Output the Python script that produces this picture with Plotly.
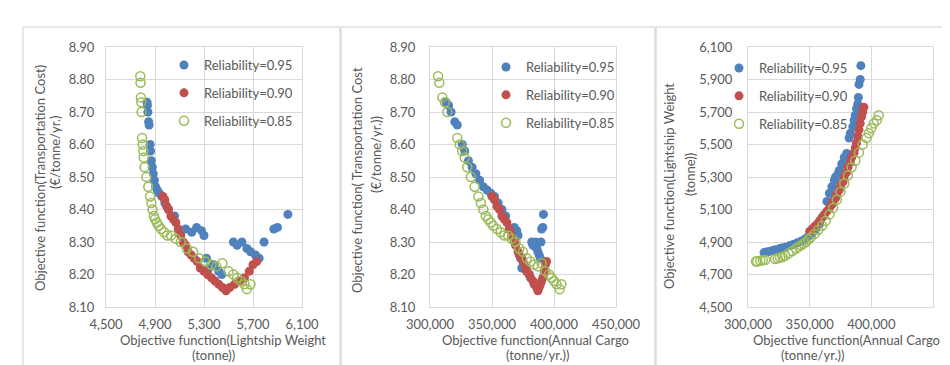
import plotly.graph_objects as go

# ---------------- data ----------------
series_names = ["Reliability=0.95", "Reliability=0.90", "Reliability=0.85"]
series_colors = ["#4F81BD", "#C0504D", "#9BBB59"]

# Reliability = 0.95
cargo_095 = [313000, 315000, 317000, 320000, 322000, 326000, 328000, 331000, 334000, 337000,
             340000, 343000, 346000, 349000, 352000, 355000, 358000, 361000, 364000, 366000,
             368000, 370000, 371000, 373000, 374000, 376000, 378000, 380000, 382000, 383000,
             385000, 386000, 387000, 388000, 389000, 389500, 390000, 391000, 391500]
weight_095 = [4835, 4838, 4842, 4848, 4852, 4860, 4864, 4870, 4878, 4886,
              4895, 4905, 4918, 4935, 4955, 4980, 5010, 5060, 5150, 5200,
              5240, 5280, 5300, 5320, 5340, 5380, 5420, 5445, 5540, 5570,
              5610, 5650, 5680, 5720, 5750, 5790, 5870, 5900, 5985]
cost_095 = [8.73, 8.72, 8.70, 8.67, 8.66, 8.60, 8.58, 8.55, 8.53, 8.51,
            8.49, 8.47, 8.46, 8.45, 8.44, 8.42, 8.40, 8.38, 8.34, 8.33,
            8.345, 8.335, 8.32, 8.25, 8.22, 8.23, 8.21, 8.20, 8.30, 8.29,
            8.30, 8.28, 8.27, 8.26, 8.25, 8.30, 8.34, 8.345, 8.385]

# Reliability = 0.90
cargo_090 = [350000, 352000, 354000, 356000, 358000, 360000, 362000, 364000, 366000, 368000,
             369000, 371000, 372000, 374000, 375000, 377000, 378000, 380000, 381000, 383000,
             384000, 386000, 387000, 388000, 389000, 390000, 391000, 392000, 393000, 394000]
weight_090 = [4965, 4980, 4995, 5010, 5030, 5050, 5070, 5090, 5110, 5130,
              5150, 5170, 5195, 5220, 5245, 5270, 5300, 5330, 5360, 5390,
              5420, 5450, 5480, 5510, 5550, 5590, 5630, 5670, 5700, 5730]
cost_090 = [8.44, 8.43, 8.41, 8.40, 8.38, 8.37, 8.36, 8.34, 8.32, 8.30,
            8.29, 8.27, 8.26, 8.25, 8.24, 8.22, 8.21, 8.20, 8.19, 8.18,
            8.17, 8.16, 8.15, 8.16, 8.17, 8.18, 8.19, 8.21, 8.23, 8.24]

# Reliability = 0.85
cargo_085 = [306500, 307500, 310000, 312000, 314000, 322000, 324000, 326000, 328000, 330000,
             333000, 336000, 339000, 341000, 343000, 345000, 347000, 349000, 351000, 354000,
             357000, 360000, 363000, 366000, 369000, 372000, 375000, 378000, 381000, 384000,
             387000, 390000, 393000, 396000, 398000, 400000, 402000, 404500, 406000]
weight_085 = [4780, 4782, 4785, 4788, 4790, 4795, 4800, 4805, 4808, 4815,
              4830, 4845, 4860, 4870, 4880, 4890, 4900, 4915, 4930, 4950,
              4975, 5000, 5030, 5070, 5110, 5160, 5210, 5260, 5310, 5360,
              5400, 5450, 5500, 5540, 5570, 5600, 5630, 5650, 5680]
cost_085 = [8.81, 8.79, 8.745, 8.73, 8.70, 8.62, 8.60, 8.58, 8.56, 8.53,
            8.50, 8.47, 8.44, 8.42, 8.40, 8.38, 8.37, 8.36, 8.35, 8.34,
            8.33, 8.32, 8.32, 8.31, 8.30, 8.28, 8.27, 8.25, 8.24, 8.23,
            8.225, 8.235, 8.21, 8.20, 8.19, 8.18, 8.17, 8.155, 8.17]

weight_ticks = [4500, 4900, 5300, 5700, 6100]
cargo_ticks = [300000, 350000, 400000, 450000]
cost_ticks = [8.10, 8.20, 8.30, 8.40, 8.50, 8.60, 8.70, 8.80, 8.90]
weight_ticks_y = [4500, 4700, 4900, 5100, 5300, 5500, 5700, 5900, 6100]

cargo = [cargo_095, cargo_090, cargo_085]
weight = [weight_095, weight_090, weight_085]
cost = [cost_095, cost_090, cost_085]

# ---------------- figure ----------------
# the page body has an 8px margin, so the figure starts 8px in from the window edge
OFF = 8
W, H = 950 - OFF, 365 - OFF
def px(x):
    return (x - OFF) / W
def py(y):
    return 1 - (y - OFF) / H

FONT = "Lato"
TXT = "#595959"
GRID = "#d9d9d9"

fig = go.Figure()

panels = [
    (weight, cost, "", "legend"),
    (cargo, cost, "2", "legend2"),
    (cargo, weight, "3", "legend3"),
]

for p, (xd, yd, ax, lg) in enumerate(panels):
    for s in range(3):
        if s < 2:
            marker = dict(size=9, color=series_colors[s], symbol="circle",
                          line=dict(width=0))
        else:
            marker = dict(size=9, color=series_colors[s], symbol="circle-open",
                          line=dict(width=1.5, color=series_colors[s]))
        fig.add_trace(go.Scatter(
            x=xd[s], y=yd[s], mode="markers", name=series_names[s],
            marker=marker, xaxis="x" + ax, yaxis="y" + ax,
            legend=lg, legendgroup="p%d_s%d" % (p, s),
            hoverinfo="x+y",
        ))

ydom = [py(307), py(47)]
axis_common = dict(
    showgrid=True, gridcolor=GRID, gridwidth=1, zeroline=False,
    showline=True, linecolor=GRID, linewidth=1, mirror=True,
    ticks="", automargin=False,
    tickfont=dict(family=FONT, size=13, color=TXT),
)

fig.update_layout(
    template="none",
    width=W, height=H,
    margin=dict(l=0, r=0, t=0, b=0, autoexpand=False),
    paper_bgcolor="white", plot_bgcolor="white",
    font=dict(family=FONT, size=13, color=TXT),
    showlegend=True,
    xaxis=dict(domain=[px(106), px(302)], range=[4500, 6100], tickvals=weight_ticks,
               tickformat=",d", anchor="y", ticklabelstandoff=5, **axis_common),
    yaxis=dict(domain=ydom, range=[8.10, 8.90], tickvals=cost_ticks,
               tickformat=".2f", anchor="x", ticklabelstandoff=8, **axis_common),
    xaxis2=dict(domain=[px(430), px(616)], range=[300000, 450000], tickvals=cargo_ticks,
                tickformat=",d", anchor="y2", ticklabelstandoff=5, **axis_common),
    yaxis2=dict(domain=ydom, range=[8.10, 8.90], tickvals=cost_ticks,
                tickformat=".2f", anchor="x2", ticklabelstandoff=11, **axis_common),
    xaxis3=dict(domain=[px(748), px(933)], range=[300000, 450000], tickvals=cargo_ticks,
                tickformat=",d", anchor="y3", ticklabelstandoff=5, **axis_common),
    yaxis3=dict(domain=ydom, range=[4500, 6100], tickvals=weight_ticks_y,
                tickformat=",d", anchor="x3", ticklabelstandoff=12, **axis_common),
)

leg_common = dict(bgcolor="rgba(0,0,0,0)", borderwidth=0,
                  font=dict(family=FONT, size=13, color=TXT),
                  traceorder="grouped", tracegroupgap=8,
                  xanchor="left", yanchor="top", itemwidth=30)
fig.update_layout(
    legend=dict(x=px(164), y=py(50), **leg_common),
    legend2=dict(x=px(486), y=py(52), **leg_common),
    legend3=dict(x=px(719), y=py(53), **leg_common),
)

# panel frames
for x0, x1 in [(23, 340), (341, 655), (656, 970)]:
    fig.add_shape(type="rect", xref="paper", yref="paper",
                  x0=px(x0), x1=px(x1), y0=py(390), y1=py(27),
                  line=dict(color="#cfcfcf", width=1), fillcolor="rgba(0,0,0,0)",
                  layer="below")

def ann(text, x, y, angle=0, xanchor="center"):
    fig.add_annotation(text=text, xref="paper", yref="paper", x=px(x), y=py(y),
                       xanchor=xanchor, yanchor="middle", showarrow=False,
                       textangle=angle, borderpad=0,
                       font=dict(family=FONT, size=13, color=TXT))

# y titles
ann("Objective function(Transportation Cost)", 40, 178, -90)
ann("(€/tonne/yr.)", 55, 153, -90)
ann("Objective function( Transportation Cost", 357, 180, -90)
ann("(€/tonne/yr.))", 376, 155, -90)
ann("Objective function(Lightship Weight", 669, 186, -90)
ann("(tonne))", 690, 175, -90)

# x titles
ann("Objective function(Lightship Weight", 223, 340)
ann("(tonne))", 213, 355)
ann("Objective function(Annual Cargo", 535, 340)
ann("(tonne/yr.))", 537, 355)
ann("Objective function(Annual Cargo", 752, 340, xanchor="left")
ann("(tonne/yr.))", 812, 355)

fig.write_html("out.html")
